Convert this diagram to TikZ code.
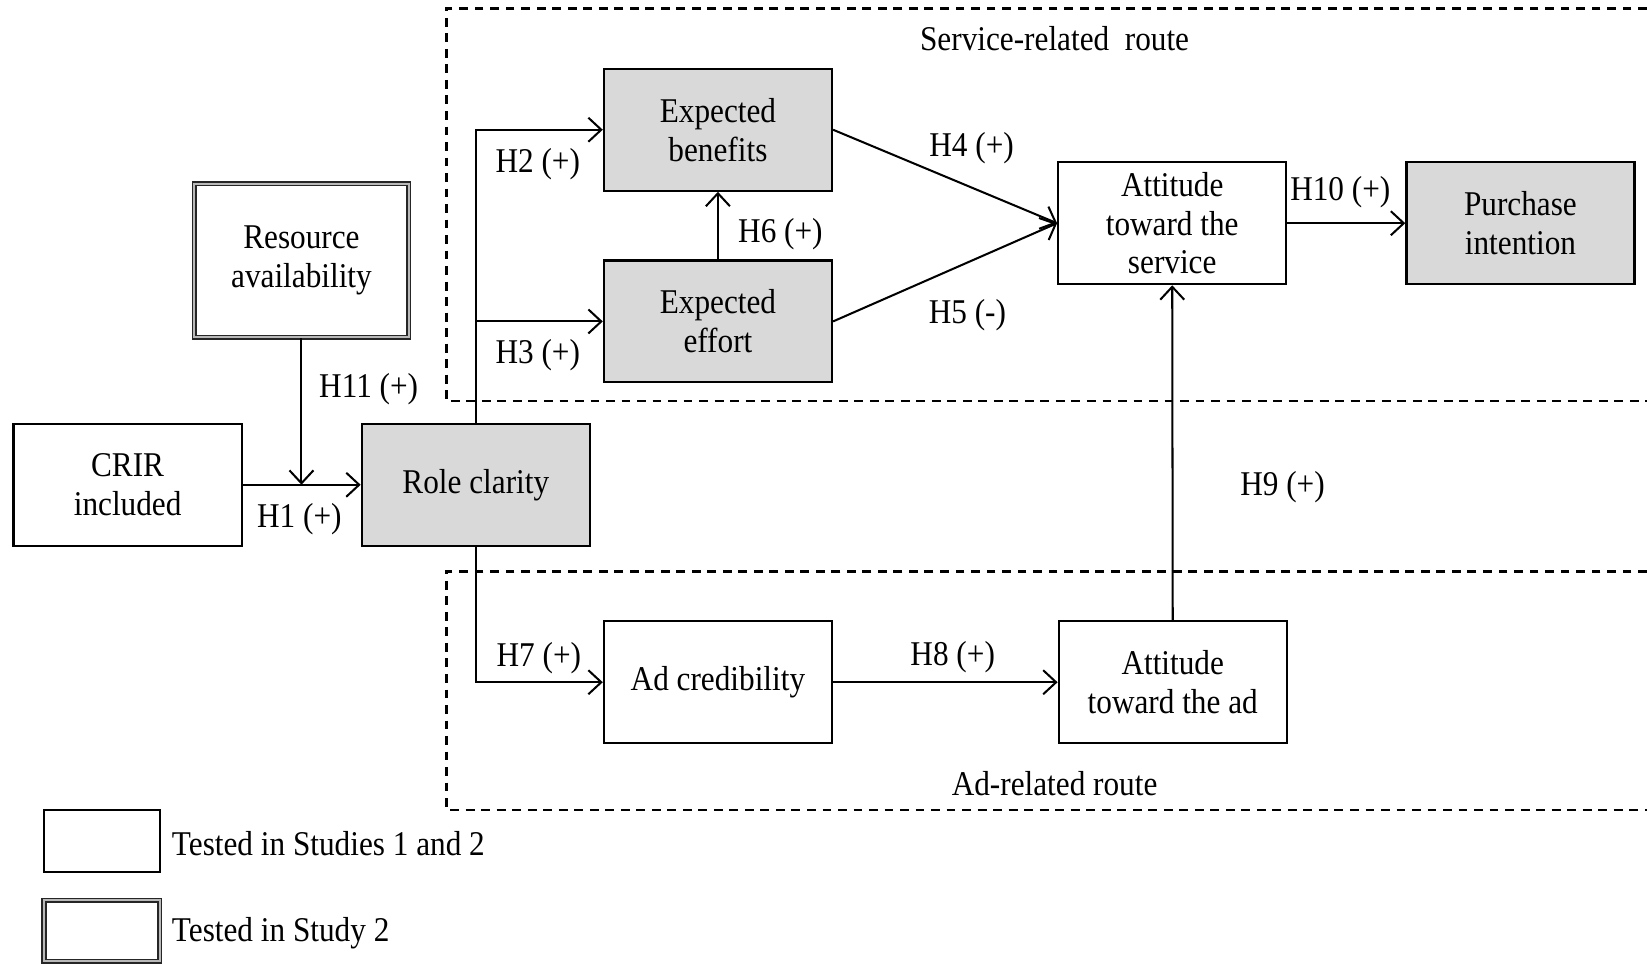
\documentclass[tikz,border=0pt]{standalone}
\usepackage{fontspec}
\setmainfont{Liberation Serif}[FakeStretch=0.9]
\usetikzlibrary{arrows.meta}
\definecolor{boxgray}{RGB}{217,217,217}
\begin{document}
\begin{tikzpicture}[x=0.01cm,y=-0.01cm,
  font=\fontsize{9.4}{10.5}\selectfont,
  box/.style={draw,line width=0.6pt,align=center,inner sep=0pt,minimum width=2.17cm,minimum height=1.16cm},
  shaded/.style={box,fill=boxgray},
  dbox/.style={draw=black!85,double=gray!55,double distance=0.5pt,line width=0.45pt,align=center,inner sep=0pt},
  conn/.style={line width=0.55pt,-{Straight Barb[length=3.5pt,width=6.5pt]}},
  plain/.style={line width=0.55pt},
  route/.style={line width=0.6pt,dash pattern=on 2.4pt off 1.8pt},
  lab/.style={inner sep=0pt}]
\useasboundingbox (0,0) rectangle (1568,917);

% route frames
\draw[route] (1568,8) -- (425,8) -- (425,382) -- (1568,382);
\draw[route] (1568,544) -- (425,544) -- (425,771) -- (1568,771);
\node[lab] (srv) at (1004,37) {Service-related\ \ route};
\node[lab] (adr) at (1004,746) {Ad-related route};

% nodes
\node[box] (crir) at (121.5,461.5) {CRIR\\included};
\node[shaded] (role) at (453,461.5) {Role clarity};
\node[dbox,minimum width=2.04cm,minimum height=1.46cm] (res) at (287,248) {Resource\\availability};
\node[shaded] (ben) at (683.5,123.5) {Expected\\benefits};
\node[shaded] (eff) at (683.5,306) {Expected\\effort};
\node[box] (ats) at (1116,212.5) {Attitude\\toward the\\service};
\node[shaded] (pur) at (1447.5,212.5) {Purchase\\intention};
\node[box] (adc) at (683.5,649.5) {Ad credibility};
\node[box] (ata) at (1116.5,649.5) {Attitude\\toward the ad};

% connectors
\draw[conn] (crir.east) -- (role.west);
\coordinate (j) at (res.south |- crir.east);
\draw[conn] (res.south) -- (j);
\draw[conn] (role.north) |- (ben.west);
\coordinate (br) at (role.north |- eff.west);
\draw[conn] (br) -- (eff.west);
\draw[conn] (role.south) |- (adc.west);
\draw[conn] (eff.north) -- (ben.south);
\draw[conn] (ben.east) -- (ats.west);
\draw[conn] (eff.east) -- (ats.west);
\draw[conn] (ats.east) -- (pur.west);
\draw[conn] (ata.north) -- (ats.south);
\draw[conn] (adc.east) -- (ata.west);

% labels
\node[lab] (h1) at (285,494) {H1 (+)};
\node[lab] (h11) at (351,370) {H11 (+)};
\node[lab] (h2) at (512,156) {H2 (+)};
\node[lab] (h3) at (512,338) {H3 (+)};
\node[lab] (h4) at (925,141) {H4 (+)};
\node[lab] (h5) at (921,300) {H5 (-)};
\node[lab] (h6) at (743,223) {H6 (+)};
\node[lab] (h7) at (513,627) {H7 (+)};
\node[lab] (h8) at (907,626) {H8 (+)};
\node[lab] (h9) at (1221,464) {H9 (+)};
\node[lab] (h10) at (1276,183) {H10 (+)};

% legend
\node[draw,line width=0.6pt,minimum width=1.10cm,minimum height=0.59cm,inner sep=0pt] (lg1) at (97,800.5) {};
\node[lab,anchor=west] (lt1) at (163,803) {Tested in Studies 1 and 2};
\node[dbox,minimum width=1.10cm,minimum height=0.58cm] (lg2) at (97,886) {};
\node[lab,anchor=west] (lt2) at (163,888) {Tested in Study 2};
\end{tikzpicture}
\end{document}
